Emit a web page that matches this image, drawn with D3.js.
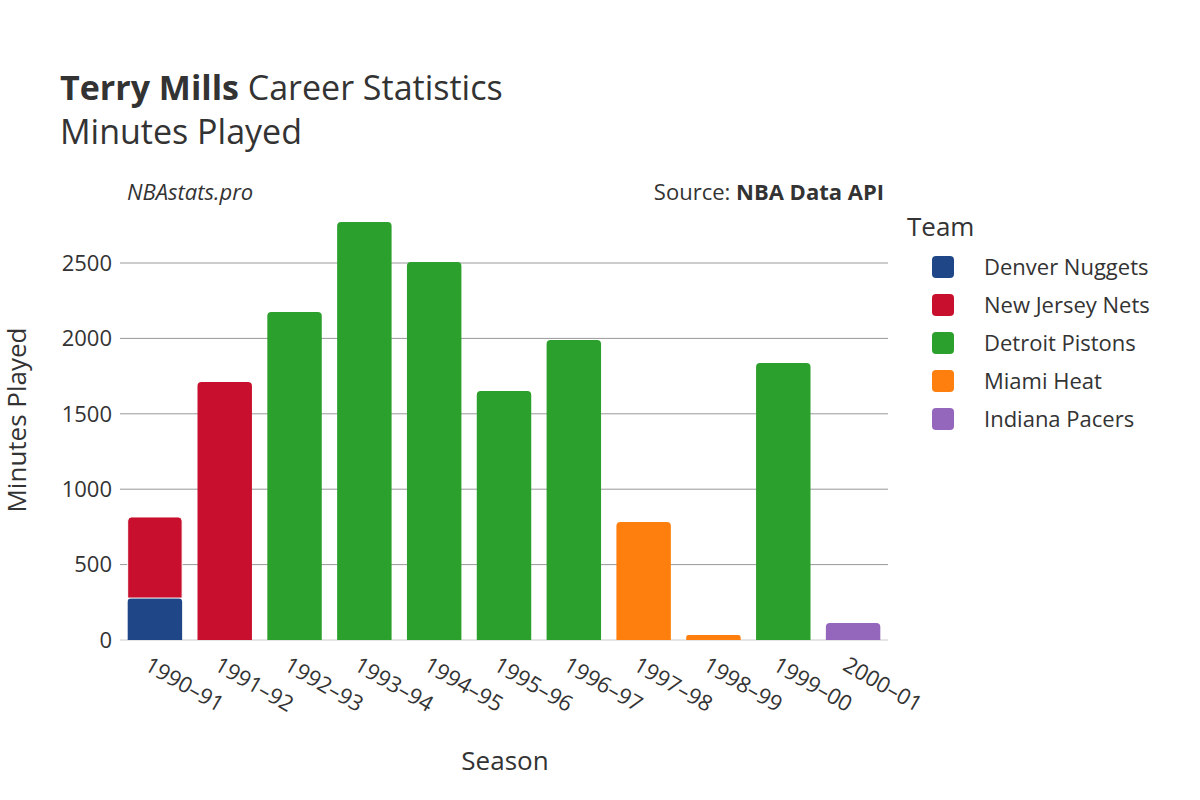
<!DOCTYPE html>
<html><head><meta charset="utf-8">
<script src="https://cdn.jsdelivr.net/npm/d3@7"></script>
<style>body{margin:0;background:#fff}text{font-family:"Open Sans",sans-serif;fill:#333}</style>
</head><body><svg id="chart" width="1200" height="800"></svg>
<script>
const seasons = ["1990-91","1991-92","1992-93","1993-94","1994-95","1995-96","1996-97","1997-98","1998-99","1999-00","2000-01"];
const teams = ["Denver Nuggets","New Jersey Nets","Detroit Pistons","Miami Heat","Indiana Pacers"];
const teamColors = ["#1f4788","#c8102e","#2ca02c","#ff7f0e","#9467bd"];
// [season, team, minutes]
const rows = [
  ["1990-91","Denver Nuggets",278],
  ["1990-91","New Jersey Nets",538],
  ["1991-92","New Jersey Nets",1711],
  ["1992-93","Detroit Pistons",2175],
  ["1993-94","Detroit Pistons",2772],
  ["1994-95","Detroit Pistons",2507],
  ["1995-96","Detroit Pistons",1651],
  ["1996-97","Detroit Pistons",1989],
  ["1997-98","Miami Heat",782],
  ["1998-99","Miami Heat",33],
  ["1999-00","Detroit Pistons",1837],
  ["2000-01","Indiana Pacers",113]
];
const yTicks = [0,500,1000,1500,2000,2500];

const svg = d3.select("#chart");
const plotLeft = 120, plotRight = 888, plotBottom = 640;

const x = d3.scaleBand().domain(seasons).range([plotLeft, plotRight]).paddingInner(0.22).paddingOuter(0.11);
const y = d3.scaleLinear().domain([0, 2500]).range([plotBottom, 263]);
const color = d3.scaleOrdinal().domain(teams).range(teamColors);

// grid
svg.append("g").selectAll("line").data(yTicks).join("line")
  .attr("x1", plotLeft).attr("x2", plotRight)
  .attr("y1", d => y(d)).attr("y2", d => y(d))
  .attr("stroke", d => d === 0 ? "#e5e5e5" : "#999").attr("stroke-width", d => d === 0 ? 2 : 1);

svg.append("g").selectAll("text").data(yTicks).join("text")
  .attr("x", plotLeft - 8).attr("y", d => y(d)).attr("dy", "0.35em")
  .attr("text-anchor", "end").attr("font-size", 22).text(d => d);

// stacked bars
const base = {};
function barPath(x0, w, y0, y1, r) {
  r = Math.min(r, (y0 - y1) / 2);
  return `M${x0},${y0}V${y1 + r}Q${x0},${y1} ${x0 + r},${y1}H${x0 + w - r}Q${x0 + w},${y1} ${x0 + w},${y1 + r}V${y0}Z`;
}
rows.forEach(([s, t, v]) => {
  const b = base[s] || 0;
  base[s] = b + v;
  svg.append("path")
    .attr("d", barPath(x(s), x.bandwidth(), y(b), y(b + v), 4))
    .attr("fill", color(t))
    .attr("stroke", "#fff").attr("stroke-width", b > 0 ? 1 : 0);
});

// x labels
svg.append("g").selectAll("text").data(seasons).join("text")
  .attr("transform", d => `translate(${x(d) + x.bandwidth() / 2 - 4},${plotBottom + 16}) rotate(30)`)
  .attr("font-size", 22).attr("dy", "0.7em").text(d => d.replace("-", "–"));

// titles
const title = svg.append("text").attr("x", 60).attr("y", 100).attr("font-size", 34);
title.append("tspan").attr("font-weight", "bold").text("Terry Mills");
title.append("tspan").text(" Career Statistics");
svg.append("text").attr("x", 60).attr("y", 144).attr("font-size", 34).text("Minutes Played");

svg.append("text").attr("x", 127).attr("y", 200).attr("font-size", 22).attr("font-style", "italic").text("NBAstats.pro");
const src = svg.append("text").attr("x", 884).attr("y", 200).attr("font-size", 22).attr("text-anchor", "end");
src.append("tspan").text("Source: ");
src.append("tspan").attr("font-weight", "bold").text("NBA Data API");

svg.append("text").attr("x", 505).attr("y", 770).attr("font-size", 26).attr("text-anchor", "middle").text("Season");
svg.append("text").attr("transform", "translate(26,420) rotate(-90)").attr("font-size", 26)
  .attr("text-anchor", "middle").text("Minutes Played");

// legend
svg.append("text").attr("x", 907).attr("y", 236).attr("font-size", 26).text("Team");
const lg = svg.append("g").selectAll("g").data(teams).join("g")
  .attr("transform", (d, i) => `translate(930,${267 + i * 38})`);
lg.append("rect").attr("x", 2).attr("y", -11).attr("width", 22).attr("height", 22).attr("rx", 4)
  .attr("fill", d => color(d));
lg.append("text").attr("x", 54).attr("dy", "0.35em").attr("font-size", 22).text(d => d);
</script></body></html>
